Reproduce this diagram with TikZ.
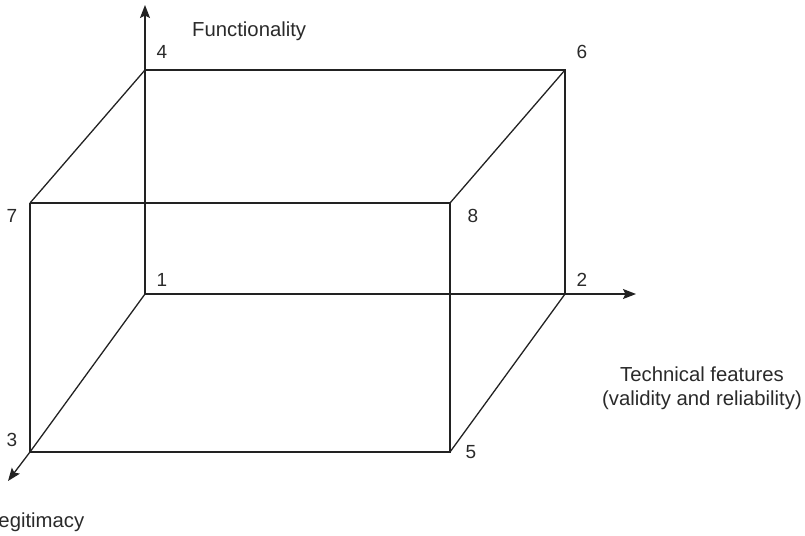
\documentclass[tikz,border=0pt]{standalone}
\usepackage{fontspec}
\setmainfont{Liberation Sans}
\usetikzlibrary{arrows.meta}
\definecolor{ink}{HTML}{222222}
\definecolor{txt}{HTML}{2A2A2A}
\begin{document}
\begin{tikzpicture}[x=1pt,y=-1pt,
  edge/.style={draw=ink, line width=1.3pt},
  axis/.style={draw=ink, line width=1.3pt, -{Stealth[length=13pt,width=10pt,inset=2.5pt]}},
  lbl/.style={text=txt, inner sep=0pt, font=\fontsize{19}{22}\selectfont},
  ttl/.style={text=txt, inner sep=0pt, font=\fontsize{20.3}{23.5}\selectfont, align=center}]
\useasboundingbox (0,0) rectangle (805,535);
\clip (0,0) rectangle (805,535);
% corners
\coordinate (c1) at (145,294);
\coordinate (c2) at (565,294);
\coordinate (c3) at (30,452);
\coordinate (c4) at (145,70);
\coordinate (c5) at (450,452);
\coordinate (c6) at (565,70);
\coordinate (c7) at (30,203);
\coordinate (c8) at (450,203);
% axis ends
\coordinate (up) at (145,5);
\coordinate (right) at (636,294);
\coordinate (down) at (8,481);
% box edges
\draw[edge] (c4) -- (c6) -- (c2) -- (c1) -- (c4);
\draw[edge] (c7) -- (c8) -- (c5) -- (c3) -- (c7);
\draw[edge] (c4) -- (c7);
\draw[edge] (c6) -- (c8);
\draw[edge] (c2) -- (c5);
\draw[edge] (c1) -- (c3);
% axes
\draw[axis] (c4) -- (up);
\draw[axis] (c2) -- (right);
\draw[axis] (c3) -- (down);
% corner labels
\node[lbl] (n1) at (162,280) {1};
\node[lbl] (n2) at (582,280) {2};
\node[lbl] (n3) at (12,440) {3};
\node[lbl] (n4) at (162,52) {4};
\node[lbl] (n5) at (471,452) {5};
\node[lbl] (n6) at (582,52) {6};
\node[lbl] (n7) at (12,216) {7};
\node[lbl] (n8) at (473,216) {8};
% axis titles
\node[ttl, anchor=base west] (tf) at (192,37) {Functionality};
\node[ttl] (tt) at (702,388) {Technical features\\(validity and reliability)};
\node[ttl, anchor=base west] (tl) at (-13,527) {Legitimacy};
\end{tikzpicture}
\end{document}
